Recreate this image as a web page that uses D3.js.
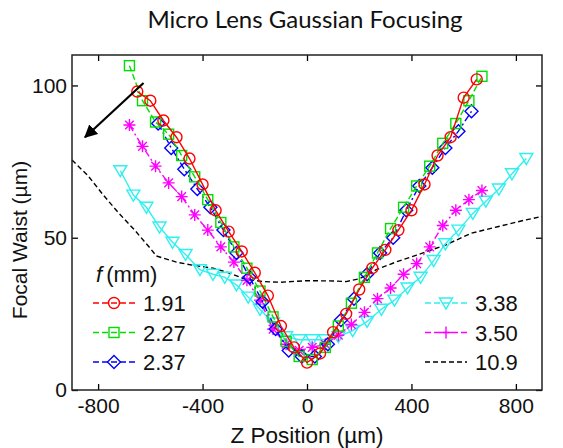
<!DOCTYPE html>
<html><head><meta charset="utf-8">
<script src="https://cdn.jsdelivr.net/npm/d3@7"></script>
<style>body{margin:0;background:#fff}svg{display:block}</style>
</head><body><svg id="c" width="563" height="448"></svg>
<script>
const title = "Micro Lens Gaussian Focusing";
const xLabel = "Z Position (\u00b5m)";
const yLabel = "Focal Waist (\u00b5m)";
const legendTitle = "(mm)";
const xTicks = [-800, -400, 0, 400, 800];
const yTicks = [0, 50, 100];
const seriesNames = ["1.91", "2.27", "2.37", "3.38", "3.50", "10.9"];

const x191 = [-650,-600,-550,-500,-450,-400,-350,-300,-250,-200,-150,-100,-50,0,50,100,150,200,250,300,350,400,450,500,550,600,650];
const y191 = [98,95,88.5,83,76,67.5,59,52,45.5,38.5,31,21,14,9,12,19,25,33,40,46,52.5,59,67.5,77,83,96,102];

const x227 = [-680,-630,-580,-530,-480,-430,-380,-330,-280,-230,-180,-130,-80,-30,20,70,120,170,220,270,320,370,420,470,520,570,620,670];
const y227 = [106.5,95,88,84,77,70,62.5,55,47,40,32.5,24,16,11,10,14,21,28.5,37,45,53,60,67,73.5,81,87.5,95,103];

const x237 = [-570,-520,-470,-420,-370,-320,-270,-220,-170,-120,-70,-20,30,80,130,180,230,280,330,380,430,480,530,580,630];
const y237 = [87.5,79.5,72.5,66,60,52.5,45,37,29,20,13,11,11,15,23,30,38,45,50,59,67,73,79.5,85,91.5];

const x338 = [-715,-665,-615,-565,-515,-465,-410,-360,-315,-270,-225,-180,-130,-80,-30,20,70,120,175,230,285,335,385,435,485,530,580,635,685,735,785,840];
const y338 = [72,64,60,53.5,48.5,44.5,39.5,38,37,34.5,30.5,26.5,22,17.5,16.5,16.5,16.5,17.5,19.5,22.5,26.5,29.5,33.5,37,42.5,48,52.5,58,62,66,71,76];

const x350 = [-680,-630,-580,-530,-480,-430,-380,-330,-280,-230,-180,-130,-80,-30,20,70,120,170,220,270,320,370,420,470,520,570,620,670];
const y350 = [87,80,73.5,68,63.5,57.5,52.5,47,42,36,29.5,20,15,13,14,15,18,21.5,25.5,30,33.5,38,41.5,47,54,59,62.5,65.5];

const x109 = [-900,-840,-780,-720,-660,-600,-577,-500,-440,-360,-300,-240,-170,-100,0,100,150,200,265,340,420,530,630,730,820,900];
const y109 = [75.5,70.5,64,58,52.5,46.5,44,42,41,40,38.5,36.5,35.6,35.4,35.9,35.8,35.6,36.5,39.5,42,44.3,47.6,51.5,53.6,55.5,57];

const arrowFrom = [-626, 100.8];
const arrowTo = [-850, 83];

const svg = d3.select("#c");
const W = 563, H = 448;
const m = {l:72, r:21, t:55, b:58};
const x = d3.scaleLinear().domain([-900, 900]).range([m.l, W - m.r]);
const y = d3.scaleLinear().domain([0, 110]).range([H - m.b, m.t]);

const series = [
  {name: seriesNames[5], xs: x109, ys: y109, color: "#000", dash: "5,3", legDash: "5,3", marker: null},
  {name: seriesNames[3], xs: x338, ys: y338, color: "#2ef0f0", dash: null, legDash: "6,3", marker: "tri"},
  {name: seriesNames[4], xs: x350, ys: y350, color: "#ff00ff", dash: "7,3,2,3", legDash: "6,3", marker: "star"},
  {name: seriesNames[2], xs: x237, ys: y237, color: "#0000ff", dash: "7,3,2,3", legDash: "6,3", marker: "dia"},
  {name: seriesNames[1], xs: x227, ys: y227, color: "#00e000", dash: "6,3", legDash: "6,3", marker: "sq"},
  {name: seriesNames[0], xs: x191, ys: y191, color: "#ff0000", dash: null, legDash: "6,3", marker: "circ"}
];

function drawMarker(g, type, cx, cy, color, legend) {
  const sw = 1.4;
  if (type === "circ") g.append("circle").attr("cx", cx).attr("cy", cy).attr("r", 5.5).attr("fill","none").attr("stroke",color).attr("stroke-width",sw);
  else if (type === "sq") g.append("rect").attr("x", cx-5).attr("y", cy-5).attr("width",10).attr("height",10).attr("fill","none").attr("stroke",color).attr("stroke-width",sw);
  else if (type === "dia") g.append("path").attr("d", `M${cx},${cy-6.5}L${cx+6.5},${cy}L${cx},${cy+6.5}L${cx-6.5},${cy}Z`).attr("fill","none").attr("stroke",color).attr("stroke-width",sw);
  else if (type === "tri") g.append("path").attr("d", `M${cx-6.5},${cy-5}L${cx+6.5},${cy-5}L${cx},${cy+6}Z`).attr("fill","none").attr("stroke",color).attr("stroke-width",sw);
  else if (type === "star") {
    const a = 6, d = 4.3;
    let p = `M${cx-a},${cy}L${cx+a},${cy}M${cx},${cy-a}L${cx},${cy+a}`;
    if (!legend) p += `M${cx-d},${cy-d}L${cx+d},${cy+d}M${cx-d},${cy+d}L${cx+d},${cy-d}`;
    g.append("path").attr("d", p).attr("fill","none").attr("stroke",color).attr("stroke-width",sw);
  }
}

// title
svg.append("text").attr("x", 305).attr("y", 28).attr("text-anchor","middle")
  .attr("font-family","Lato, 'Open Sans', sans-serif").attr("font-size", 24).attr("fill","#111").text(title);

const plot = svg.append("g");
const line = d3.line().x(d => x(d[0])).y(d => y(d[1]));
series.forEach(s => {
  const pts = s.xs.map((v, i) => [v, s.ys[i]]);
  plot.append("path").datum(pts).attr("d", line).attr("fill","none").attr("stroke", s.color)
    .attr("stroke-width", 1.4).attr("stroke-dasharray", s.dash);
  if (s.marker) pts.forEach(p => drawMarker(plot, s.marker, x(p[0]), y(p[1]), s.color, false));
});

// arrow
const defs = svg.append("defs");
defs.append("marker").attr("id","ah").attr("viewBox","0 0 10 10").attr("refX",9).attr("refY",5)
  .attr("markerWidth",6).attr("markerHeight",6).attr("orient","auto-start-reverse")
  .append("path").attr("d","M0,0L10,5L0,10Z").attr("fill","#000");
svg.append("line").attr("x1", x(arrowFrom[0])).attr("y1", y(arrowFrom[1]))
  .attr("x2", x(arrowTo[0])).attr("y2", y(arrowTo[1])).attr("stroke","#000").attr("stroke-width",2.2)
  .attr("marker-end","url(#ah)");

// axes
const fam = "'Liberation Sans', Arial, sans-serif";
const ax = svg.append("g").attr("transform", `translate(0,${y(0)})`)
  .call(d3.axisBottom(x).tickValues(xTicks).tickSize(-6).tickPadding(8).tickFormat(d3.format("d")));
const ay = svg.append("g").attr("transform", `translate(${x(-900)},0)`)
  .call(d3.axisLeft(y).tickValues(yTicks).tickSize(-6).tickPadding(5));
const at = svg.append("g").attr("transform", `translate(0,${y(110)})`)
  .call(d3.axisTop(x).tickValues(xTicks).tickSize(-6).tickFormat(""));
const ar = svg.append("g").attr("transform", `translate(${x(900)},0)`)
  .call(d3.axisRight(y).tickValues(yTicks).tickSize(-6).tickFormat(""));
[ax, ay, at, ar].forEach(g => {
  g.select(".domain").remove();
  g.selectAll("line").attr("stroke","#000").attr("stroke-width",1.3);
  g.selectAll("text").attr("font-family", fam).attr("font-size", 21).attr("fill","#111");
});
ax.selectAll("text").text(d => d < 0 ? "-" + Math.abs(d) : d);
svg.append("rect").attr("x", x(-900)).attr("y", y(110)).attr("width", x(900)-x(-900)).attr("height", y(0)-y(110))
  .attr("fill","none").attr("stroke","#222").attr("stroke-width",1.5);

// axis labels
svg.append("text").attr("x", 307).attr("y", 443).attr("text-anchor","middle")
  .attr("font-family", fam).attr("font-size", 22.5).attr("fill","#111").text(xLabel);
svg.append("text").attr("transform","translate(27,240) rotate(-90)").attr("text-anchor","middle")
  .attr("font-family", fam).attr("font-size", 21).attr("fill","#111").text(yLabel);

// legend
const lt = svg.append("text").attr("x", 96).attr("y", 282).attr("font-family", fam).attr("font-size", 22).attr("fill","#111");
lt.append("tspan").attr("font-style","italic").text("f");
lt.append("tspan").attr("dx", 4).text(legendTitle);
const legOrder = [5, 4, 3, 1, 2, 0];
legOrder.forEach((si, k) => {
  const s = series[si];
  const col = k < 3 ? 0 : 1;
  const row = k % 3;
  const lx = col === 0 ? 93 : 425;
  const ly = 303 + row * 29.5;
  const lg = svg.append("g");
  lg.append("line").attr("x1", lx).attr("x2", lx + 42).attr("y1", ly).attr("y2", ly)
    .attr("stroke", s.color).attr("stroke-width", 1.4).attr("stroke-dasharray", s.legDash);
  if (s.marker) drawMarker(lg, s.marker, lx + 21, ly, s.color, true);
  lg.append("text").attr("x", lx + 50).attr("y", ly + 8).attr("font-family", fam).attr("font-size", 22)
    .attr("fill","#111").text(s.name);
});
</script></body></html>
